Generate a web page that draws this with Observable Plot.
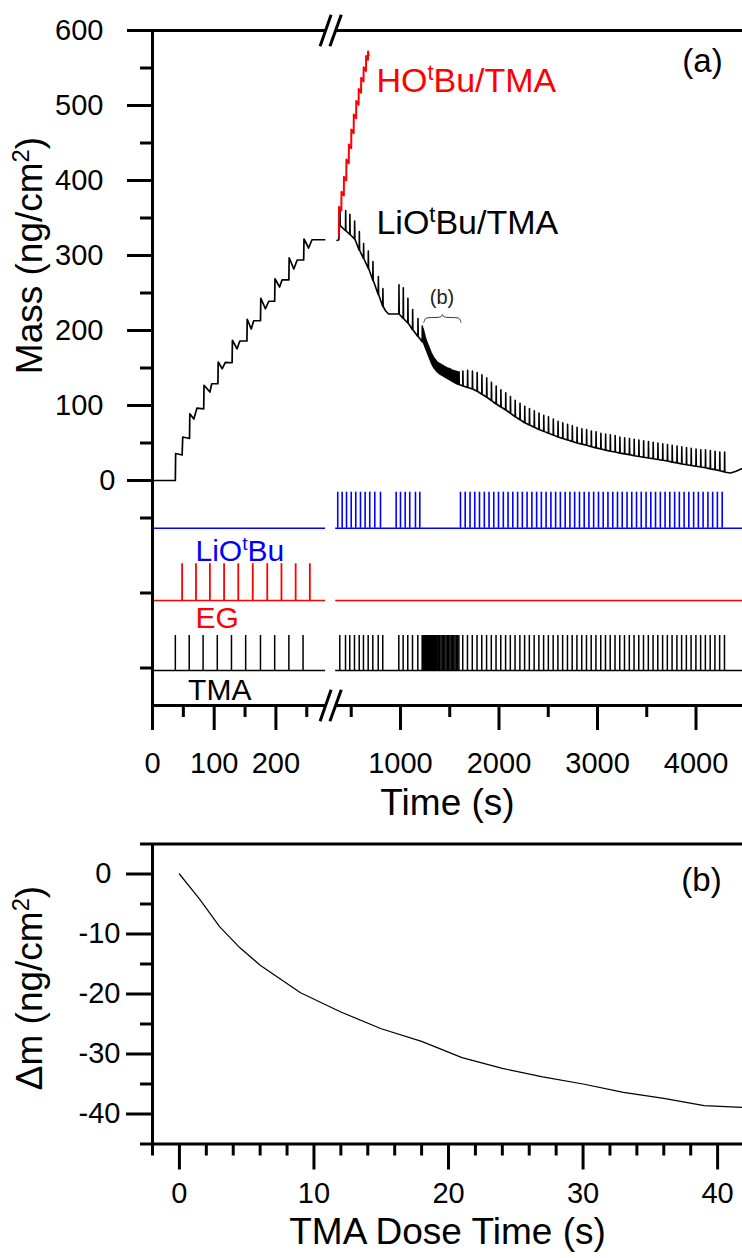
<!DOCTYPE html>
<html><head><meta charset="utf-8">
<script src="https://cdn.jsdelivr.net/npm/d3@7"></script>
<script src="https://cdn.jsdelivr.net/npm/@observablehq/plot@0.6"></script>
<style>
body{margin:0;background:#fff;}
#chart{width:742px;}
svg{display:block;}
</style></head><body><div id="chart"></div>
<script>
// ---------- Panel (a) data ----------
// EG / TMA deposition (left time segment): mass trace
const leftT = [0,37,37.5,48,49,60,60.5,67,72,83,83.5,93,96,106,106.5,113,118,129,129.5,137,141.5,153,153.5,160,164,175,175.5,183,188.5,198,198.5,206,210,221,221.5,229,234.5,245,245.5,253,258.5,279];
const leftM = [0,0,36,34,58,56,89,82,96.5,95.5,127,118,129,129,158,149,157.5,157,187,175.5,186,186,215,202,213,213,243,229,239,239,269,258,267.5,267.5,297,282,294,294,322,310,321,321];
// pulse times, left segment
const egT = [48,70.5,93,116,139,162.5,186,209,232,255];
const tmaLeftT = [37,59.5,82,105,128,151,175,198,221,244];

// HOtBu/TMA trace (red)
const hoT = [374,376,400,401,425,426,450,451,475,476,500,501,525,526,550,551,575,576,600,601,625,626,650,651,670,671,678];
const hoM = [327,365,360,385,380,405,400,428,423,448,443,468,463,488,483,506,501,522,517,537,532,551,546,566,561,572,567];

// LiOtBu/TMA: TMA pulse times with mass baseline and spike top at each pulse
const tmaG1 = [384,442,485,533,581,624,672,719,774,820];
const baseG1 = [340,333,328,322,307,296,283,267,248,232];
const peakG1 = [363,360,355,346,332,316,306,292,272,256];
const tmaG2 = [983,1027,1074,1122,1176,1220];
const baseG2 = [222,216,210,201,192,185];
const peakG2 = [261,257,243,228,216,206];
const tmaDense = [1228,1234,1240,1246,1252,1258,1264,1270,1276,1282,1288,1294,1300,1306,1312,1318,1324,1330,1336,1342,1348,1354,1360,1366,1372,1385,1398,1411,1424,1437,1450,1463,1476,1489,1502,1515,1528,1541,1554,1567,1580,1593];
const baseDense = [185,183,181,179,177,175,173,171,169,167,165,163,161,159,157,155.5,154,152.5,151,150,149,148,147,146,145,143.5,142,141,140,139,138,137,136,135,134,133,132,131,130,129,128.5,128];
const peakDense = [203,200,197,194,191,188,186,184,182,180,178,176,174,172,170,168.5,167,165.5,164,163,162,161,160,159,158,157,156,155,154,153,152,151,150,149.5,149,148,147,146.5,146,145.5,145,145];
const tmaG3 = [1632,1680,1729,1777,1825,1874,1922,1970,2018,2067,2115,2163,2212,2260,2308,2357,2405,2453,2501,2550,2598,2646,2695,2743,2791,2840,2888,2936,2984,3033,3081,3129,3178,3226,3274,3323,3371,3419,3467,3516,3564,3612,3661,3709,3757,3806,3854,3902,3950,3999,4047,4095,4144,4192,4240,4289];
const baseG3 = [126,124,122,119,115,111,106.5,102,98,94,89.5,85,81,77,74,71,68,65.5,63,60.5,58,56,54,52,50,48.5,47,45,43.5,42,40.5,39,38,36.5,35.5,34.5,33,32,31,30,29,28,27,26,24.5,23.5,22,21,20,19,18,17,15.5,14.5,13,11.5];
const peakG3 = [146,147,146,144,141,137,131,126,121,117,112,107,103,99,96,93,90,87,85,82,79,77,75,73,71,69,68,66,65,63,62,61,60,58,57,56,55,54,53,52,51,50,49,48,47,46,45,44,43,42,41,41,40,39,38,38];
// extra baseline points of the LiOtBu/TMA trace (no pulses there)
const extraT = [357,374,380,850,880,975,4300,4350,4400,4472];
const extraM = [320,321,338,226,222,222,11,10,12,16];
// LiOtBu pulse times
const lithiumT = [363,408,452,500,546,594,641,688,739,797,
  956,1000,1048,1094,1152,1196,
  1609,1657,1706,1754,1802,1851,1899,1947,1995,2044,2092,2140,2189,2237,2285,2334,2382,2430,2478,2527,2575,2623,2672,2720,2768,2817,2865,2913,2961,3010,3058,3106,3155,3203,3251,3300,3348,3396,3444,3493,3541,3589,3638,3686,3734,3783,3831,3879,3927,3976,4024,4072,4121,4169,4217,4266];

// axis ticks
const xMajorA = [0,100,200,1000,2000,3000,4000];
const xMinorA = [50,150,250,500,1500,2500,3500];
const yMajorA = [100,200,300,400,500,600];
const yZeroA = [0];
const yMinorA = [50,150,250,350,450,550,-50,-150,-250];

// ---------- Panel (b) data ----------
const doseT = [0,1.5,3,4.5,6,9,12,15,18,21,24,27,30,33,36,39,42];
const deltaM = [0,-4.2,-8.8,-12.3,-15.2,-19.8,-23.0,-25.8,-27.9,-30.6,-32.4,-33.8,-35.0,-36.4,-37.4,-38.6,-38.9];
const xMajorB = [0,10,20,30,40];
const xMinorB = [-2,2,4,6,8,12,14,16,18,22,24,26,28,32,34,36,38];
const yMajorB = [-10,-20,-30,-40];
const yZeroB = [0];
const yMinorB = [5,-5,-15,-25,-35,-45];

// ---------- build tables ----------
const leftTrace = leftT.map((t,i)=>({t, m: leftM[i]}));
const hoTrace = hoT.map((t,i)=>({t, m: hoM[i]}));
const pulses = [];
[[tmaG1,baseG1,peakG1],[tmaG2,baseG2,peakG2],[tmaDense,baseDense,peakDense],[tmaG3,baseG3,peakG3]]
  .forEach(([T,B,P])=>T.forEach((t,i)=>pulses.push({t, base:B[i], peak:P[i]})));
const rightTrace = [];
extraT.forEach((t,i)=>rightTrace.push({t, m: extraM[i]}));
pulses.forEach(p=>{
  rightTrace.push({t:p.t, m:p.base});
  rightTrace.push({t:p.t+1.5, m:p.peak});
  rightTrace.push({t:p.t+4, m:p.base});
});
rightTrace.sort((a,b)=>a.t-b.t);
const tmaAllRight = pulses.map(p=>p.t);
const lineB = doseT.map((t,i)=>({t, v: deltaM[i]}));

const FONT = "'Liberation Sans', Arial, Helvetica, sans-serif";
const X_END = 4472;
const TICK_FS = 29, TITLE_FS = 37;

// pulse-channel levels (mass units of the panel (a) y scale)
const LI = [-63.6,-15.6], EGL = [-160,-111], TM = [-253.3,-206.7];

const segs = (y) => [{x1:0,x2:280.5,y},{x1:342,x2:X_END,y}];

const plotA = Plot.plot({
  width: 742, height: 830,
  marginLeft: 152, marginRight: 0, marginTop: 30, marginBottom: 125,
  style: {fontFamily: FONT, background: "white", color: "black"},
  x: {type: "linear", domain: [0,282,320,X_END], range: [152,326,333,742], label: null},
  y: {domain: [-300,600], range: [705,30], label: null},
  marks: [
    // pulse channel baselines
    Plot.ruleY(segs(LI[0]), {x1:"x1", x2:"x2", y:"y", stroke:"#0000ff", strokeWidth:1.5}),
    Plot.ruleY(segs(EGL[0]), {x1:"x1", x2:"x2", y:"y", stroke:"#ff0000", strokeWidth:1.5}),
    Plot.ruleY(segs(TM[0]), {x1:"x1", x2:"x2", y:"y", stroke:"black", strokeWidth:1.5}),
    // pulses
    Plot.ruleX(lithiumT, {x: d=>d, y1: LI[0], y2: LI[1], stroke:"#0000ff", strokeWidth:1.6}),
    Plot.ruleX(egT, {x: d=>d, y1: EGL[0], y2: EGL[1], stroke:"#ff0000", strokeWidth:1.8}),
    Plot.ruleX(tmaLeftT.concat(tmaAllRight), {x: d=>d, y1: TM[0], y2: TM[1], stroke:"black", strokeWidth:1.5}),
    // mass traces
    Plot.line(leftTrace, {x:"t", y:"m", stroke:"black", strokeWidth:1.7}),
    Plot.line(rightTrace, {x:"t", y:"m", stroke:"black", strokeWidth:1.6}),
    Plot.line(hoTrace, {x:"t", y:"m", stroke:"#ff0000", strokeWidth:2}),
    // brace for (b)
    Plot.line([[1237,211],[1250,216],[1272,217.3],[1400,217.3],[1420,219],[1426,222.3],[1432,219],[1452,217.3],[1580,217.3],[1602,216],[1614,211]],
      {x: d=>d[0], y: d=>d[1], stroke:"#333", strokeWidth:1, curve:"basis"}),
    // frame
    Plot.ruleX([0], {y1:-300, y2:600, strokeWidth:3}),
    Plot.ruleY([600,-300], {x1:0, x2:X_END, strokeWidth:3}),
    // axis break
    Plot.link([600,-300], {x1:281, x2:339, y1:d=>d, y2:d=>d, stroke:"white", strokeWidth:6}),
    Plot.link([{b:-321,t:-279},{b:579,t:621}].flatMap(o=>[{x1:271.6,x2:307,y1:o.b,y2:o.t},{x1:300.5,x2:399,y1:o.b,y2:o.t}]),
      {x1:"x1", x2:"x2", y1:"y1", y2:"y2", stroke:"black", strokeWidth:3}),
    // axes
    Plot.axisY({ticks: yMajorA, tickSize:25, tickPadding:24, fontSize:TICK_FS, strokeWidth:3, label:null, tickFormat: d=>String(d)}),
    Plot.axisY({ticks: yZeroA, tickSize:25, tickPadding:12, fontSize:TICK_FS, strokeWidth:3, label:null, tickFormat: d=>String(d)}),
    Plot.axisY({ticks: yMinorA, tickSize:12, strokeWidth:3, label:null, tickFormat: ()=>""}),
    Plot.axisX({ticks: xMajorA, tickSize:25, tickPadding:22, fontSize:TICK_FS, strokeWidth:3, label:null, tickFormat: d=>String(d)}),
    Plot.axisX({ticks: xMinorA, tickSize:12, strokeWidth:3, label:null, tickFormat: ()=>""}),
    // labels
    Plot.text(["Mass (ng/cm^2)"], {frameAnchor:"left", y: ()=>300, dx:-122, rotate:-90, textAnchor:"middle", fontSize:TITLE_FS, text:d=>d}),
    Plot.text(["Time (s)"], {frameAnchor:"bottom", dy:109, lineAnchor:"bottom", textAnchor:"middle", fontSize:TITLE_FS, text:d=>d}),
    Plot.text(["(a)"], {x: ()=>4066, y: ()=>544.4, lineAnchor:"bottom", fontSize:33, text:d=>d}),
    Plot.text(["HO^tBu/TMA"], {x: ()=>756, y: ()=>517.7, lineAnchor:"bottom", textAnchor:"start", fontSize:34, fill:"#ff0000", text:d=>d}),
    Plot.text(["LiO^tBu/TMA"], {x: ()=>756, y: ()=>329, lineAnchor:"bottom", textAnchor:"start", fontSize:34, fill:"black", text:d=>d}),
    Plot.text(["(b)"], {x: ()=>1421, y: ()=>235.6, lineAnchor:"bottom", fontSize:20, fill:"#222", text:d=>d}),
    Plot.text(["LiO^tBu"], {x: ()=>69.7, y: ()=>-106.7, lineAnchor:"bottom", textAnchor:"start", fontSize:30, fill:"#0000ff", text:d=>d}),
    Plot.text(["EG"], {x: ()=>69.7, y: ()=>-196, lineAnchor:"bottom", textAnchor:"start", fontSize:30, fill:"#ff0000", text:d=>d}),
    Plot.text(["TMA"], {x: ()=>57.7, y: ()=>-293.3, lineAnchor:"bottom", textAnchor:"start", fontSize:30, fill:"black", text:d=>d})
  ]
});

const plotB = Plot.plot({
  width: 742, height: 428,
  marginLeft: 152, marginRight: 0, marginTop: 13.5, marginBottom: 114.5,
  style: {fontFamily: FONT, background: "white", color: "black"},
  x: {domain: [-2, 41.85], label: null},
  y: {domain: [-45, 5], label: null},
  marks: [
    Plot.line(lineB, {x:"t", y:"v", stroke:"black", strokeWidth:1.2}),
    Plot.ruleX([-2], {y1:-45, y2:5, strokeWidth:3}),
    Plot.ruleY([5,-45], {x1:-2, x2:41.85, strokeWidth:3}),
    Plot.axisY({ticks: yMajorB, tickSize:26, tickPadding:6, fontSize:TICK_FS, strokeWidth:3, label:null, tickFormat: d=>String(d)}),
    Plot.axisY({ticks: yZeroB, tickSize:26, tickPadding:15, fontSize:TICK_FS, strokeWidth:3, label:null, tickFormat: d=>String(d)}),
    Plot.axisY({ticks: yMinorB, tickSize:12, strokeWidth:3, label:null, tickFormat: ()=>""}),
    Plot.axisX({ticks: xMajorB, tickSize:26, tickPadding:12, fontSize:TICK_FS, strokeWidth:3, label:null, tickFormat: d=>String(d)}),
    Plot.axisX({ticks: xMinorB, tickSize:12, strokeWidth:3, label:null, tickFormat: ()=>""}),
    Plot.text(["\u0394m (ng/cm^2)"], {frameAnchor:"left", y: ()=>-19, dx:-122, rotate:-90, textAnchor:"middle", fontSize:TITLE_FS, text:d=>d}),
    Plot.text(["TMA Dose Time (s)"], {frameAnchor:"bottom", dy:100, lineAnchor:"bottom", textAnchor:"middle", fontSize:TITLE_FS, text:d=>d}),
    Plot.text(["(b)"], {x: ()=>38.8, y: ()=>-2.9, lineAnchor:"bottom", fontSize:33, text:d=>d})
  ]
});

const root = document.getElementById("chart");
root.appendChild(plotA);
root.appendChild(plotB);

// superscripts: "^x" -> raised small glyph
function supify(node){
  const ns = "http://www.w3.org/2000/svg";
  node.querySelectorAll("text").forEach(el=>{
    const s = el.textContent;
    if (!s.includes("^")) return;
    const F = parseFloat(getComputedStyle(el).fontSize) || 16;
    const parts = s.split(/\^(.)/);
    el.textContent = "";
    parts.forEach((p,i)=>{
      if (!p) return;
      const ts = document.createElementNS(ns, "tspan");
      ts.textContent = p;
      if (i % 2 === 1) { ts.setAttribute("font-size", 0.64*F); ts.setAttribute("dy", -0.36*F); }
      else if (i > 0) { ts.setAttribute("dy", 0.36*F); }
      el.appendChild(ts);
    });
  });
}
supify(root);
</script></body></html>
